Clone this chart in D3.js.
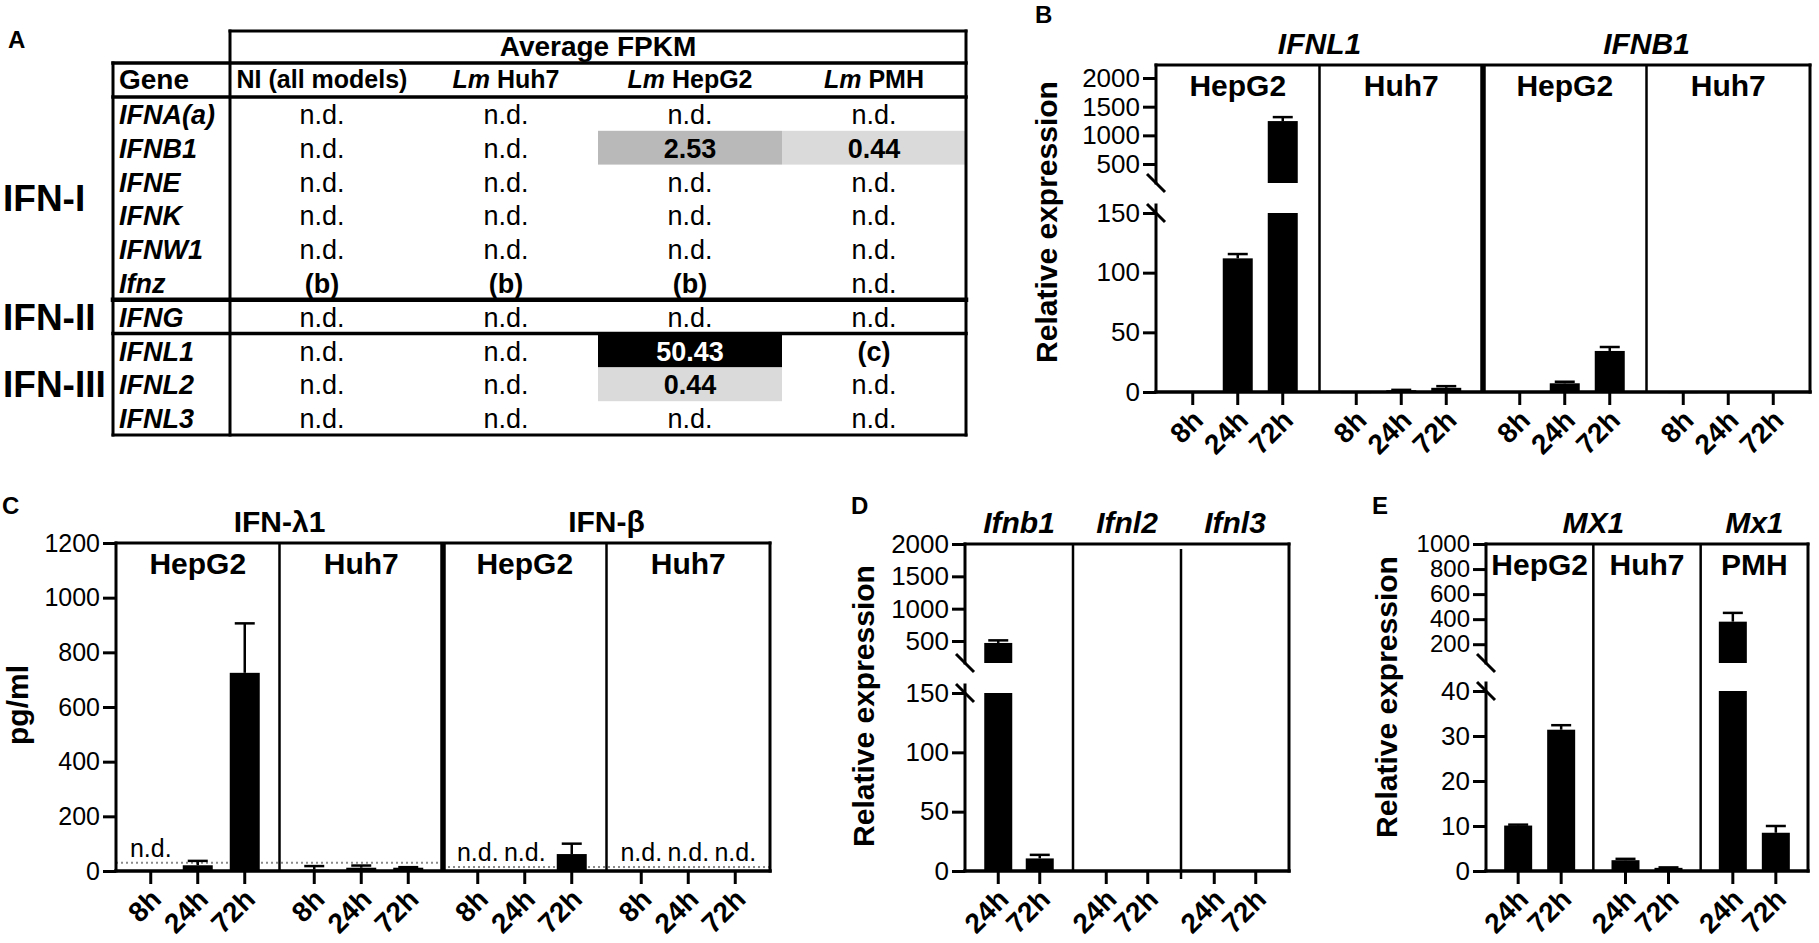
<!DOCTYPE html>
<html><head><meta charset="utf-8">
<script src="https://cdn.jsdelivr.net/npm/d3@7"></script>
<style>
html,body{margin:0;padding:0;background:#fff;}
svg{display:block;font-family:"Liberation Sans",Arial,Helvetica,sans-serif;}
</style></head><body>
<svg id="fig" width="1819" height="943"></svg>
<script>
// ================= DATA =================
// Panel A – table of average FPKM
const tableGenes = ["IFNA(a)","IFNB1","IFNE","IFNK","IFNW1","Ifnz","IFNG","IFNL1","IFNL2","IFNL3"];
const tableColumns = ["NI (all models)","Lm Huh7","Lm HepG2","Lm PMH"];
const tableValues = [
  ["n.d.","n.d.","n.d.","n.d."],
  ["n.d.","n.d.","2.53","0.44"],
  ["n.d.","n.d.","n.d.","n.d."],
  ["n.d.","n.d.","n.d.","n.d."],
  ["n.d.","n.d.","n.d.","n.d."],
  ["(b)","(b)","(b)","n.d."],
  ["n.d.","n.d.","n.d.","n.d."],
  ["n.d.","n.d.","50.43","(c)"],
  ["n.d.","n.d.","0.44","n.d."],
  ["n.d.","n.d.","n.d.","n.d."]
];
const ifnClasses = ["IFN-I","IFN-II","IFN-III"];
const ifnClassRows = [[0,5],[6,6],[7,9]];

// Panel B – qRT-PCR human cells
const timesB = ["8h","24h","72h"];
const cellLinesB = ["HepG2","Huh7","HepG2","Huh7"];
const genesB = ["IFNL1","IFNB1"];
const meanB = [[0.2,112,1249],[0.1,1.5,3.5],[0.4,7.3,34.4],[0.1,0.4,0.2]];
const semB  = [[0,3.6,69],[0,0.3,1.4],[0,1.3,3.3],[0,0,0]];
const ticksBLow = [0,50,100,150];
const ticksBHigh = [500,1000,1500,2000];

// Panel C – ELISA
const timesC = ["8h","24h","72h"];
const cellLinesC = ["HepG2","Huh7","HepG2","Huh7"];
const proteinsC = ["IFN-λ1","IFN-β"];
const meanC = [[null,21,725],[5,12,12],[null,null,62],[null,null,null]];
const semC  = [[0,16,181],[13,8,2],[0,0,38],[0,0,0]];
const lodC = [30,15];
const ticksC = [0,200,400,600,800,1000,1200];

// Panel D – mouse hepatocytes
const timesD = ["24h","72h"];
const genesD = ["Ifnb1","Ifnl2","Ifnl3"];
const meanD = [[470,10.6],[0,0],[0,0]];
const semD  = [[40,3],[0,0],[0,0]];
const ticksDLow = [0,50,100,150];
const ticksDHigh = [500,1000,1500,2000];

// Panel E – MX1 / Mx1
const timesE = ["24h","72h"];
const cellLinesE = ["HepG2","Huh7","PMH"];
const genesE = ["MX1","Mx1"];
const genesESpan = [[0,1],[2,2]];
const meanE = [[10.1,31.4],[2.4,0.7],[380,8.5]];
const semE  = [[0.2,1.0],[0.3,0.1],[70,1.5]];
const ticksELow = [0,10,20,30,40];
const ticksEHigh = [200,400,600,800,1000];

// ================= DRAWING =================
const svg = d3.select("#fig");
const fmt = d3.format("d");

function txt(g, s, x, y, size, opts = {}) {
  return g.append("text").attr("x", x).attr("y", y).text(s)
    .attr("font-size", size)
    .attr("font-weight", opts.bold ? "bold" : "normal")
    .attr("font-style", opts.italic ? "italic" : "normal")
    .attr("text-anchor", opts.anchor || "start")
    .attr("fill", opts.fill || "#000");
}
function hline(g, x1, x2, y, w) {
  g.append("line").attr("x1", x1).attr("x2", x2).attr("y1", y).attr("y2", y)
    .attr("stroke", "#000").attr("stroke-width", w).attr("stroke-linecap", "square");
}
function vline(g, x, y1, y2, w) {
  g.append("line").attr("x1", x).attr("x2", x).attr("y1", y1).attr("y2", y2)
    .attr("stroke", "#000").attr("stroke-width", w).attr("stroke-linecap", "square");
}

// Panel letters
[["A",8,48],["B",1035,23],["C",2,514],["D",851,514],["E",1372,514]]
  .forEach(([l,x,y]) => txt(svg, l, x, y, 24, {bold:true}));

// ---------- Panel A : table ----------
(function drawTable() {
  const g = svg.append("g");
  const left = 113, colStart = 230, right = 966, headTop = 31, geneTop = 63, rowTop = 97, bottom = 435;
  const rowY = d3.scaleBand().domain(tableGenes).range([rowTop, bottom]);
  const colX = d3.scaleBand().domain(tableColumns).range([colStart, right]);
  const fill = d3.scaleThreshold().domain([1, 10]).range(["#dadada", "#b9b9b9", "#000000"]);

  const cells = tableGenes.flatMap((gn, r) => tableColumns.map((c, k) => ({gene: gn, col: c, v: tableValues[r][k]})));
  g.selectAll("rect.cell").data(cells.filter(d => !isNaN(+d.v))).join("rect")
    .attr("x", d => colX(d.col)).attr("y", d => rowY(d.gene))
    .attr("width", colX.bandwidth()).attr("height", rowY.bandwidth())
    .attr("fill", d => fill(+d.v));

  g.selectAll("text.val").data(cells).join("text")
    .attr("x", d => colX(d.col) + colX.bandwidth() / 2)
    .attr("y", d => rowY(d.gene) + rowY.bandwidth() / 2 + 10)
    .attr("text-anchor", "middle").attr("font-size", 27)
    .attr("font-weight", d => d.v === "n.d." ? "normal" : "bold")
    .attr("fill", d => (!isNaN(+d.v) && +d.v > 10) ? "#fff" : "#000")
    .text(d => d.v);

  g.selectAll("text.gene").data(tableGenes).join("text")
    .attr("x", left + 6).attr("y", d => rowY(d) + rowY.bandwidth() / 2 + 10)
    .attr("font-size", 27).attr("font-weight", "bold").attr("font-style", "italic")
    .text(d => d);

  // header
  txt(g, "Average FPKM", (colStart + right) / 2, 56, 28, {bold:true, anchor:"middle"});
  txt(g, "Gene", left + 6, 89, 28, {bold:true});
  tableColumns.forEach(c => {
    const t = g.append("text").attr("x", colX(c) + colX.bandwidth() / 2).attr("y", 88)
      .attr("text-anchor", "middle").attr("font-size", 25).attr("font-weight", "bold");
    if (c.startsWith("Lm ")) {
      t.append("tspan").attr("font-style", "italic").text("Lm");
      t.append("tspan").text(c.slice(2));
    } else t.text(c);
  });

  // class labels
  ifnClasses.forEach((c, i) => {
    const [a, b] = ifnClassRows[i];
    const yc = (rowY(tableGenes[a]) + rowY(tableGenes[b]) + rowY.bandwidth()) / 2;
    txt(g, c, 3, yc + 13, 37, {bold:true});
  });

  // lines
  hline(g, colStart, right, headTop, 3);
  hline(g, left, right, geneTop, 3.5);
  hline(g, left, right, rowTop, 3.5);
  hline(g, left, right, rowY("IFNG"), 4.5);
  hline(g, left, right, rowY("IFNL1"), 3.5);
  hline(g, left, right, bottom, 3);
  vline(g, left, geneTop, bottom, 3);
  vline(g, colStart, headTop, bottom, 3);
  vline(g, right, headTop, bottom, 3);
})();

// ---------- generic bar panel ----------
function drawPanel(p) {
  const g = svg.append("g");
  const nSec = p.sections.length;
  const sec = d3.scaleBand().domain(d3.range(nSec)).range([p.x0, p.x1]);
  const half = (p.times.length - 1) / 2 * p.spacing;
  const inner = d3.scalePoint().domain(p.times).range([-half, half]);
  const cx = (s, t) => sec(s) + sec.bandwidth() / 2 + inner(t);
  const yLow = d3.scaleLinear().domain(p.lower.domain).range(p.lower.range);
  const yUp = p.upper ? d3.scaleLinear().domain(p.upper.domain).range(p.upper.range) : null;
  const lowMax = p.lower.domain[1];
  const yOf = v => (yUp && v > lowMax) ? yUp(v) : yLow(v);
  const top = p.top, bottom = p.bottom;

  // detection limit dotted lines + n.d.
  (p.titles || []).forEach(t => {
    if (t.lod == null) return;
    const yl = yLow(t.lod);
    g.append("line").attr("x1", sec(t.from)).attr("x2", sec(t.to) + sec.bandwidth())
      .attr("y1", yl).attr("y2", yl).attr("stroke", "#8a8a8a").attr("stroke-width", 2)
      .attr("stroke-dasharray", "2,3");
    for (let s = t.from; s <= t.to; s++) {
      p.times.forEach((tm, ti) => {
        if (p.sections[s].mean[ti] == null)
          txt(g, "n.d.", cx(s, tm), yl - 6, 25, {anchor:"middle"});
      });
    }
  });

  // bars
  const bars = [];
  p.sections.forEach((s, si) => p.times.forEach((t, ti) => {
    const m = s.mean[ti];
    if (m == null || m <= 0) return;
    bars.push({x: cx(si, t), m, e: s.sem[ti]});
  }));
  const rects = [];
  bars.forEach(b => {
    if (yUp && b.m > lowMax) {
      rects.push({x: b.x, y0: yLow(0), y1: yLow(lowMax)});
      rects.push({x: b.x, y0: yUp(p.upper.domain[0]), y1: yUp(b.m)});
    } else rects.push({x: b.x, y0: yLow(0), y1: yLow(b.m)});
  });
  g.selectAll("rect.bar").data(rects).join("rect")
    .attr("x", d => d.x - p.barW / 2).attr("width", p.barW)
    .attr("y", d => d.y1).attr("height", d => Math.max(1.2, d.y0 - d.y1)).attr("fill", "#000");
  const errs = bars.filter(b => b.e > 0);
  g.selectAll("line.err").data(errs).join("line")
    .attr("x1", d => d.x).attr("x2", d => d.x)
    .attr("y1", d => yOf(d.m)).attr("y2", d => yOf(d.m + d.e))
    .attr("stroke", "#000").attr("stroke-width", 2.5);
  g.selectAll("line.cap").data(errs).join("line")
    .attr("x1", d => d.x - 10).attr("x2", d => d.x + 10)
    .attr("y1", d => yOf(d.m + d.e)).attr("y2", d => yOf(d.m + d.e))
    .attr("stroke", "#000").attr("stroke-width", 2.5);

  // frame
  hline(g, p.x0, p.x1, top, 3);
  vline(g, p.x1, top, bottom, 3);
  for (let i = 1; i < nSec; i++) {
    const thick = (p.thick || []).includes(i);
    const off = (p.dividerOffset && p.dividerOffset[i]) || [0, 0];
    g.append("line").attr("x1", sec(i)).attr("x2", sec(i))
      .attr("y1", top + off[0]).attr("y2", bottom + off[1])
      .attr("stroke", "#000").attr("stroke-width", thick ? 5.5 : 2.5);
  }
  hline(g, p.x0, p.x1, bottom, 3.5);

  // y axes
  const styleAxis = size => a => {
    a.select(".domain").remove();
    a.selectAll(".tick line").attr("stroke", "#000").attr("stroke-width", 3);
    a.selectAll(".tick text").attr("font-size", size)
      .attr("font-family", '"Liberation Sans", Arial, sans-serif').attr("fill", "#000");
  };
  g.append("g").attr("transform", `translate(${p.x0},0)`)
    .call(d3.axisLeft(yLow).tickValues(p.lower.ticks).tickFormat(fmt).tickSize(13).tickPadding(3))
    .call(styleAxis(p.yTickSize || 26));
  if (yUp) {
    g.append("g").attr("transform", `translate(${p.x0},0)`)
      .call(d3.axisLeft(yUp).tickValues(p.upper.ticks).tickFormat(fmt).tickSize(13).tickPadding(3))
      .call(styleAxis(p.yTickSizeUpper || p.yTickSize || 26));
    const ub = p.upper.range[0], lt = p.lower.range[1] - 8;
    vline(g, p.x0, top, ub, 3);
    vline(g, p.x0, lt, bottom, 3);
    [ub, p.lower.range[1]].forEach(yb => {
      g.append("line").attr("x1", p.x0 - 9).attr("x2", p.x0 + 9)
        .attr("y1", yb - 9).attr("y2", yb + 9).attr("stroke", "#000").attr("stroke-width", 3);
    });
  } else {
    vline(g, p.x0, top, bottom, 3);
  }

  // x ticks and labels
  const xt = [];
  p.sections.forEach((s, si) => p.times.forEach(t => xt.push({x: cx(si, t), t})));
  g.selectAll("line.xt").data(xt).join("line")
    .attr("x1", d => d.x).attr("x2", d => d.x).attr("y1", bottom).attr("y2", bottom + 13)
    .attr("stroke", "#000").attr("stroke-width", 3);
  g.selectAll("text.xl").data(xt).join("text")
    .attr("transform", d => `translate(${d.x + 12},${bottom + 30}) rotate(-45)`)
    .attr("text-anchor", "end").attr("font-size", 28).attr("font-weight", "bold")
    .text(d => d.t);

  // section labels
  p.sections.forEach((s, si) => {
    if (s.label) txt(g, s.label, sec(si) + sec.bandwidth() / 2, top + 31, 30, {bold:true, anchor:"middle"});
  });
  // titles
  (p.titles || []).forEach(t => {
    txt(g, t.text, (sec(t.from) + sec(t.to) + sec.bandwidth()) / 2, top - 11, 30,
      {bold:true, italic:t.italic, anchor:"middle"});
  });
  // y label
  g.append("text").attr("transform", `translate(${p.yLabelPos[0]},${p.yLabelPos[1]}) rotate(-90)`)
    .attr("text-anchor", "middle").attr("dominant-baseline", "central")
    .attr("font-size", 30).attr("font-weight", "bold").text(p.yLabel);
}

// Panel B
drawPanel({
  x0: 1156, x1: 1810, top: 65, bottom: 392, spacing: 45, barW: 30,
  times: timesB,
  sections: cellLinesB.map((c, i) => ({label: c, mean: meanB[i], sem: semB[i]})),
  titles: genesB.map((gn, i) => ({text: gn, from: i * 2, to: i * 2 + 1, italic: true})),
  thick: [2],
  lower: {domain: [0, 150], range: [392, 213], ticks: ticksBLow},
  upper: {domain: [169, 2227], range: [183, 65], ticks: ticksBHigh},
  yLabel: "Relative expression", yLabelPos: [1046, 222]
});

// Panel C
drawPanel({
  x0: 116, x1: 770, top: 543, bottom: 871, spacing: 47, barW: 30,
  times: timesC, yTickSize: 25,
  sections: cellLinesC.map((c, i) => ({label: c, mean: meanC[i], sem: semC[i]})),
  titles: proteinsC.map((pr, i) => ({text: pr, from: i * 2, to: i * 2 + 1, italic: false, lod: lodC[i]})),
  thick: [2],
  lower: {domain: [0, 1200], range: [871, 543], ticks: ticksC},
  yLabel: "pg/ml", yLabelPos: [17, 705]
});

// Panel D
drawPanel({
  x0: 965, x1: 1289, top: 544, bottom: 871, spacing: 41.5, barW: 28,
  times: timesD,
  sections: genesD.map((gn, i) => ({label: null, mean: meanD[i], sem: semD[i]})),
  titles: genesD.map((gn, i) => ({text: gn, from: i, to: i, italic: true})),
  dividerOffset: {2: [5, 8]},
  lower: {domain: [0, 150], range: [871, 693], ticks: ticksDLow},
  upper: {domain: [160, 2000], range: [663, 544], ticks: ticksDHigh},
  yLabel: "Relative expression", yLabelPos: [863, 706]
});

// Panel E
drawPanel({
  x0: 1486, x1: 1808, top: 544, bottom: 871, spacing: 43, barW: 28,
  times: timesE, yTickSizeUpper: 24,
  sections: cellLinesE.map((c, i) => ({label: c, mean: meanE[i], sem: semE[i]})),
  titles: genesE.map((gn, i) => ({text: gn, from: genesESpan[i][0], to: genesESpan[i][1], italic: true})),
  lower: {domain: [0, 40], range: [871, 691], ticks: ticksELow},
  upper: {domain: [50, 1000], range: [663, 544], ticks: ticksEHigh},
  yLabel: "Relative expression", yLabelPos: [1386, 697]
});
</script>
</body></html>
